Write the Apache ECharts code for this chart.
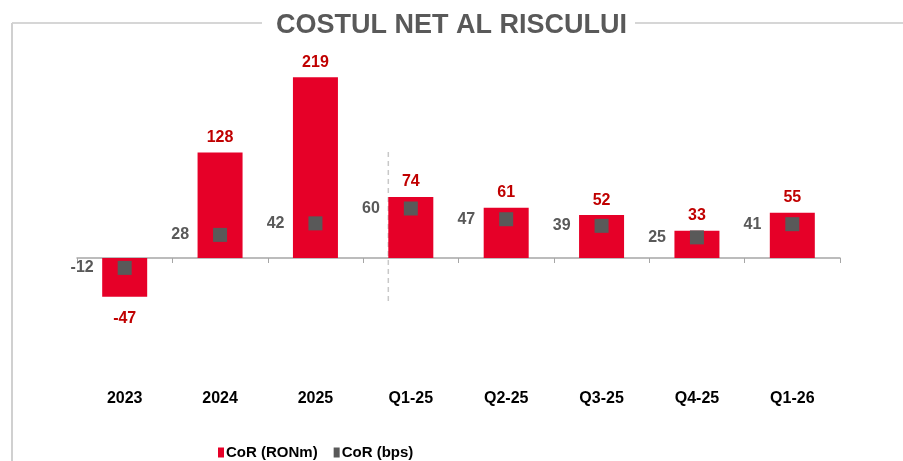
<!DOCTYPE html>
<html>
<head>
<meta charset="utf-8">
<script src="https://cdn.jsdelivr.net/npm/echarts@6/dist/echarts.min.js"></script>
<style>
  html, body { margin: 0; padding: 0; background: #fff; }
  #chart { width: 903px; height: 461px; }
</style>
</head>
<body>
<div id="chart"></div>
<script>
// date
var categories = ['2023', '2024', '2025', 'Q1-25', 'Q2-25', 'Q3-25', 'Q4-25', 'Q1-26'];
var corRon = [-47, 128, 219, 74, 61, 52, 33, 55];
var corBps = [-12, 28, 42, 60, 47, 39, 25, 41];

var RED = '#e60028';
var LABEL_RED = '#c00000';
var GREY = '#595959';
var NARROW = "'Liberation Sans Narrow', 'Arial Narrow', 'Liberation Sans', Arial, sans-serif";
var ARIAL = "'Liberation Sans', Arial, sans-serif";

var myChart = echarts.init(document.getElementById('chart'));

myChart.setOption({
  animation: false,
  title: {
    text: 'COSTUL NET AL RISCULUI',
    left: 'center',
    top: 7,
    textStyle: { fontFamily: ARIAL, fontSize: 27, fontWeight: 'bold', color: GREY }
  },
  legend: {
    top: 440,
    left: 213,
    icon: 'rect',
    itemWidth: 6,
    itemHeight: 10,
    itemGap: 16,
    textStyle: { fontFamily: NARROW, fontSize: 15, fontWeight: 'bold', color: '#000', padding: [0, 0, 0, -3] },
    data: ['CoR (RONm)', 'CoR (bps)']
  },
  grid: { left: 77, right: 63, top: 51.75, bottom: 79.25 },
  xAxis: [
    {
      type: 'category',
      data: categories,
      axisLine: { onZero: true, lineStyle: { color: '#a6a6a6', width: 1.5 } },
      axisTick: { show: true, length: 5, lineStyle: { color: '#a6a6a6' } },
      axisLabel: { show: false },
      splitLine: { show: false }
    },
    {
      type: 'category',
      data: categories,
      position: 'bottom',
      axisLine: { show: false, onZero: false },
      axisTick: { show: false },
      axisLabel: { margin: 9, fontFamily: NARROW, fontSize: 16, fontWeight: 'bold', color: '#000' }
    }
  ],
  yAxis: {
    type: 'value',
    min: -150,
    max: 250,
    show: false,
    splitLine: { show: false }
  },
  series: [
    {
      name: 'CoR (RONm)',
      type: 'bar',
      xAxisIndex: 0,
      barWidth: 45,
      itemStyle: { color: RED },
      label: {
        show: true,
        position: 'top',
        distance: 7,
        fontFamily: ARIAL,
        fontSize: 16,
        fontWeight: 'bold',
        color: LABEL_RED
      },
      data: corRon.map(function (v) {
        return v < 0 ? { value: v, label: { position: 'bottom', distance: 14 } } : v;
      }),
      z: 2
    },
    {
      name: 'CoR (bps)',
      type: 'scatter',
      xAxisIndex: 0,
      symbol: 'rect',
      symbolSize: 14,
      itemStyle: { color: GREY, opacity: 1 },
      label: {
        show: true,
        position: 'left',
        distance: 24,
        fontFamily: ARIAL,
        fontSize: 16,
        fontWeight: 'bold',
        color: GREY
      },
      data: corBps,
      z: 3
    }
  ]
});

// linie punctata la marginea stanga a barei Q1-25, plus chenarul titlului
var q1x = myChart.convertToPixel({ xAxisIndex: 0 }, 'Q1-25') - 22.5;
myChart.setOption({
  graphic: [
    { type: 'line', shape: { x1: 12, y1: 23, x2: 262, y2: 23 }, style: { stroke: '#c8c8c8', lineWidth: 1.5 } },
    { type: 'line', shape: { x1: 635, y1: 23, x2: 903, y2: 23 }, style: { stroke: '#c8c8c8', lineWidth: 1.5 } },
    { type: 'line', shape: { x1: 12, y1: 23, x2: 12, y2: 461 }, style: { stroke: '#d0d0d0', lineWidth: 2 } },
    { type: 'line', shape: { x1: q1x, y1: 152, x2: q1x, y2: 305 }, style: { stroke: '#c8c8c8', lineWidth: 1.5, lineDash: [5, 4] } }
  ]
});
</script>
</body>
</html>
